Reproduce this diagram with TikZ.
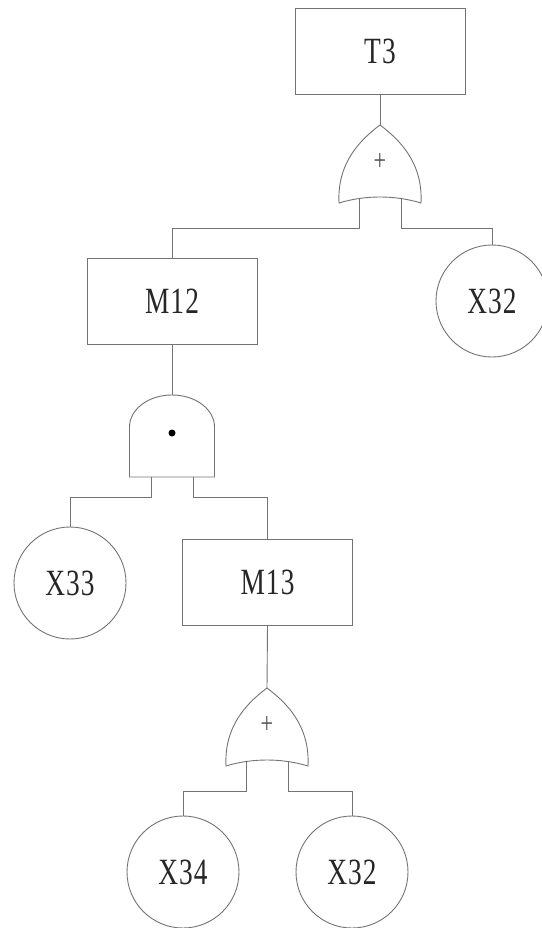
\documentclass[tikz,border=0pt]{standalone}
\usepackage{fontspec}
\setmainfont{Liberation Serif}[FakeStretch=0.74, LetterSpace=3]

\begin{document}
\begin{tikzpicture}[
    x=1pt, y=-1pt,
    color=black!55,
    line width=0.9pt,
    event/.style={
        rectangle,
        draw,
        minimum width=170pt,
        minimum height=86pt,
        text=black!85,
        font=\fontsize{37}{40}\selectfont
    },
    basic/.style={
        circle,
        draw,
        minimum size=112pt,
        inner sep=0pt,
        text=black!85,
        font=\fontsize{37}{40}\selectfont
    },
    orgate/.pic={
        \draw (-41,78) .. controls (-43,38) and (-20,15) .. (0,0)
              .. controls (20,15) and (43,38) .. (41,78)
              .. controls (15,70) and (-15,70) .. cycle;
        \node[text=black!70, font=\fontsize{30}{30}\selectfont] (-sign) at (0,37) {+};
        \coordinate (-top) at (0,0);
        \coordinate (-in1) at (-21,73);
        \coordinate (-b1) at (-21,103);
        \coordinate (-in2) at (21,73);
        \coordinate (-b2) at (21,103);
    },
    andgate/.pic={
        \draw (-42.5,82) -- (-42.5,32)
              .. controls (-42.5,14.3) and (-23.5,0) .. (0,0)
              .. controls (23.5,0) and (42.5,14.3) .. (42.5,32)
              -- (42.5,82) -- cycle;
        \fill[black] (0,38) circle[radius=3.5pt];
        \coordinate (-top) at (0,0);
        \coordinate (-in1) at (-21,82);
        \coordinate (-b1) at (-21,102);
        \coordinate (-in2) at (21,82);
        \coordinate (-b2) at (21,102);
    }
]
\useasboundingbox (0,0) rectangle (541,928);

% events
\node[event] (t3) at (380,51.5) {T3};
\node[event] (m12) at (172,301) {M12};
\node[event] (m13) at (267.5,582.5) {M13};

% basic events
\node[basic] (x32a) at (492,301) {X32};
\node[basic] (x33) at (70,583) {X33};
\node[basic] (x34) at (183,872) {X34};
\node[basic] (x32b) at (352,872) {X32};

% gates
\pic (g1) at (380,125) {orgate};
\pic (a1) at (172,395) {andgate};
\pic (g2) at (267,688) {orgate};

% connectors
\draw (t3.south) -- (g1-top);
\draw (g1-in1) -- (g1-b1) -| (m12.north);
\draw (g1-in2) -- (g1-b2) -| (x32a.north);
\draw (m12.south) -- (a1-top);
\draw (a1-in1) -- (a1-b1) -| (x33.north);
\draw (a1-in2) -- (a1-b2) -| (m13.north);
\draw (m13.south) -- (g2-top);
\draw (g2-in1) -- (g2-b1) -| (x34.north);
\draw (g2-in2) -- (g2-b2) -| (x32b.north);

\end{tikzpicture}
\end{document}
